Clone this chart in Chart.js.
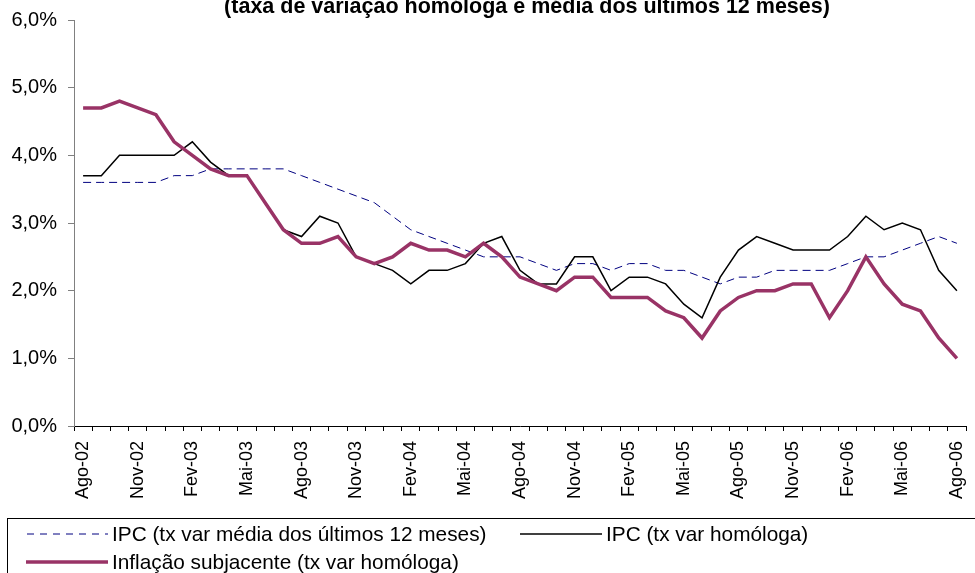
<!DOCTYPE html>
<html>
<head>
<meta charset="utf-8">
<script src="https://cdn.jsdelivr.net/npm/chart.js@4"></script>
<style>
  html, body { margin: 0; padding: 0; background: #fff; }
  #wrap { width: 975px; height: 573px; position: relative; }
</style>
</head>
<body>
<div id="wrap"><canvas id="inflChart" width="975" height="573"></canvas></div>
<script>
const months = [
  'Ago-02','Set-02','Out-02','Nov-02','Dez-02','Jan-03','Fev-03','Mar-03','Abr-03','Mai-03','Jun-03','Jul-03',
  'Ago-03','Set-03','Out-03','Nov-03','Dez-03','Jan-04','Fev-04','Mar-04','Abr-04','Mai-04','Jun-04','Jul-04',
  'Ago-04','Set-04','Out-04','Nov-04','Dez-04','Jan-05','Fev-05','Mar-05','Abr-05','Mai-05','Jun-05','Jul-05',
  'Ago-05','Set-05','Out-05','Nov-05','Dez-05','Jan-06','Fev-06','Mar-06','Abr-06','Mai-06','Jun-06','Jul-06',
  'Ago-06'
];

// IPC - média dos últimos 12 meses
const ipcMedia12 = [
  3.6, 3.6, 3.6, 3.6, 3.6, 3.7, 3.7, 3.8, 3.8, 3.8, 3.8, 3.8,
  3.7, 3.6, 3.5, 3.4, 3.3, 3.1, 2.9, 2.8, 2.7, 2.6, 2.5, 2.5,
  2.5, 2.4, 2.3, 2.4, 2.4, 2.3, 2.4, 2.4, 2.3, 2.3, 2.2, 2.1,
  2.2, 2.2, 2.3, 2.3, 2.3, 2.3, 2.4, 2.5, 2.5, 2.6, 2.7, 2.8,
  2.7
];

// IPC - variação homóloga
const ipcHomologa = [
  3.7, 3.7, 4.0, 4.0, 4.0, 4.0, 4.2, 3.9, 3.7, 3.7, 3.3, 2.9,
  2.8, 3.1, 3.0, 2.5, 2.4, 2.3, 2.1, 2.3, 2.3, 2.4, 2.7, 2.8,
  2.3, 2.1, 2.1, 2.5, 2.5, 2.0, 2.2, 2.2, 2.1, 1.8, 1.6, 2.2,
  2.6, 2.8, 2.7, 2.6, 2.6, 2.6, 2.8, 3.1, 2.9, 3.0, 2.9, 2.3,
  2.0
];

// Inflação subjacente - variação homóloga
const inflSubjacente = [
  4.7, 4.7, 4.8, 4.7, 4.6, 4.2, 4.0, 3.8, 3.7, 3.7, 3.3, 2.9,
  2.7, 2.7, 2.8, 2.5, 2.4, 2.5, 2.7, 2.6, 2.6, 2.5, 2.7, 2.5,
  2.2, 2.1, 2.0, 2.2, 2.2, 1.9, 1.9, 1.9, 1.7, 1.6, 1.3, 1.7,
  1.9, 2.0, 2.0, 2.1, 2.1, 1.6, 2.0, 2.5, 2.1, 1.8, 1.7, 1.3,
  1.0
];

const yTicks = [0, 1, 2, 3, 4, 5, 6];

const chartTitle = '(taxa de variação homóloga e média dos últimos 12 meses)';
const FONT = "'Liberation Sans', Arial, sans-serif";

const fmtPct = (v) => v.toFixed(1).replace('.', ',') + '%';

// titulo cortado no topo + legenda com caixa, como no original
const decorPlugin = {
  id: 'decor',
  afterDraw(chart) {
    const ctx = chart.ctx;
    ctx.save();
    ctx.fillStyle = '#000';
    ctx.font = 'bold 21.5px ' + FONT;
    ctx.textAlign = 'center';
    ctx.textBaseline = 'alphabetic';
    ctx.fillText(chartTitle, 527, 13);

    // caixa da legenda
    ctx.strokeStyle = '#000';
    ctx.lineWidth = 1;
    ctx.strokeRect(7.5, 518.5, 1000, 100);

    const slots = [
      { x1: 27, x2: 108, y: 534 },
      { x1: 520, x2: 602, y: 534 },
      { x1: 26, x2: 108, y: 562 }
    ];
    ctx.font = '20.8px ' + FONT;
    ctx.textAlign = 'left';
    ctx.textBaseline = 'middle';
    chart.data.datasets.forEach((ds, i) => {
      const s = slots[i];
      ctx.beginPath();
      ctx.strokeStyle = ds.borderColor;
      ctx.lineWidth = ds.borderWidth;
      ctx.setLineDash(ds.borderDash ? [7, 6] : []);
      ctx.moveTo(s.x1, s.y);
      ctx.lineTo(s.x2, s.y);
      ctx.stroke();
      ctx.setLineDash([]);
      ctx.fillStyle = '#000';
      ctx.fillText(ds.label, s.x2 + 4, s.y + 1);
    });
    ctx.restore();
  }
};

const ctx = document.getElementById('inflChart').getContext('2d');
new Chart(ctx, {
  type: 'line',
  data: {
    labels: months,
    datasets: [
      {
        label: 'IPC (tx var média dos últimos 12 meses)',
        data: ipcMedia12,
        borderColor: '#000080',
        borderWidth: 1,
        borderDash: [8, 5],
        order: 2
      },
      {
        label: 'IPC (tx var homóloga)',
        data: ipcHomologa,
        borderColor: '#000000',
        borderWidth: 1.5,
        order: 1
      },
      {
        label: 'Inflação subjacente (tx var homóloga)',
        data: inflSubjacente,
        borderColor: '#993366',
        borderWidth: 3.5,
        order: 0
      }
    ]
  },
  options: {
    responsive: false,
    animation: false,
    events: [],
    layout: { padding: { top: 20, right: 9, left: 0, bottom: 0 } },
    elements: {
      point: { radius: 0 },
      line: { tension: 0, fill: false, borderJoinStyle: 'miter' }
    },
    scales: {
      x: {
        type: 'category',
        offset: true,
        grid: { display: true, offset: true, drawOnChartArea: false, tickLength: 5, color: '#000' },
        border: { display: true, color: '#000', width: 1 },
        ticks: {
          autoSkip: false,
          minRotation: 90,
          maxRotation: 90,
          padding: 10,
          color: '#000',
          font: { family: FONT, size: 18 },
          callback: function(value, index) {
            return index % 3 === 0 ? this.getLabelForValue(value) : '';
          }
        },
        afterFit: (scale) => {
          scale.height = 147;
          scale.paddingLeft = 0;
          scale.paddingRight = 0;
        }
      },
      y: {
        min: 0,
        max: 6,
        afterBuildTicks: (scale) => { scale.ticks = yTicks.map(v => ({ value: v })); },
        grid: { display: true, drawOnChartArea: false, tickLength: 6, color: '#808080' },
        border: { display: true, color: '#808080', width: 1 },
        ticks: {
          padding: 11,
          color: '#000',
          font: { family: FONT, size: 20 },
          callback: (v) => fmtPct(v)
        },
        afterFit: (scale) => {
          scale.width = 74;
          scale.paddingTop = 0;
          scale.paddingBottom = 0;
        }
      }
    },
    plugins: {
      legend: { display: false },
      title: { display: false },
      tooltip: { enabled: false }
    }
  },
  plugins: [decorPlugin]
});
</script>
</body>
</html>
